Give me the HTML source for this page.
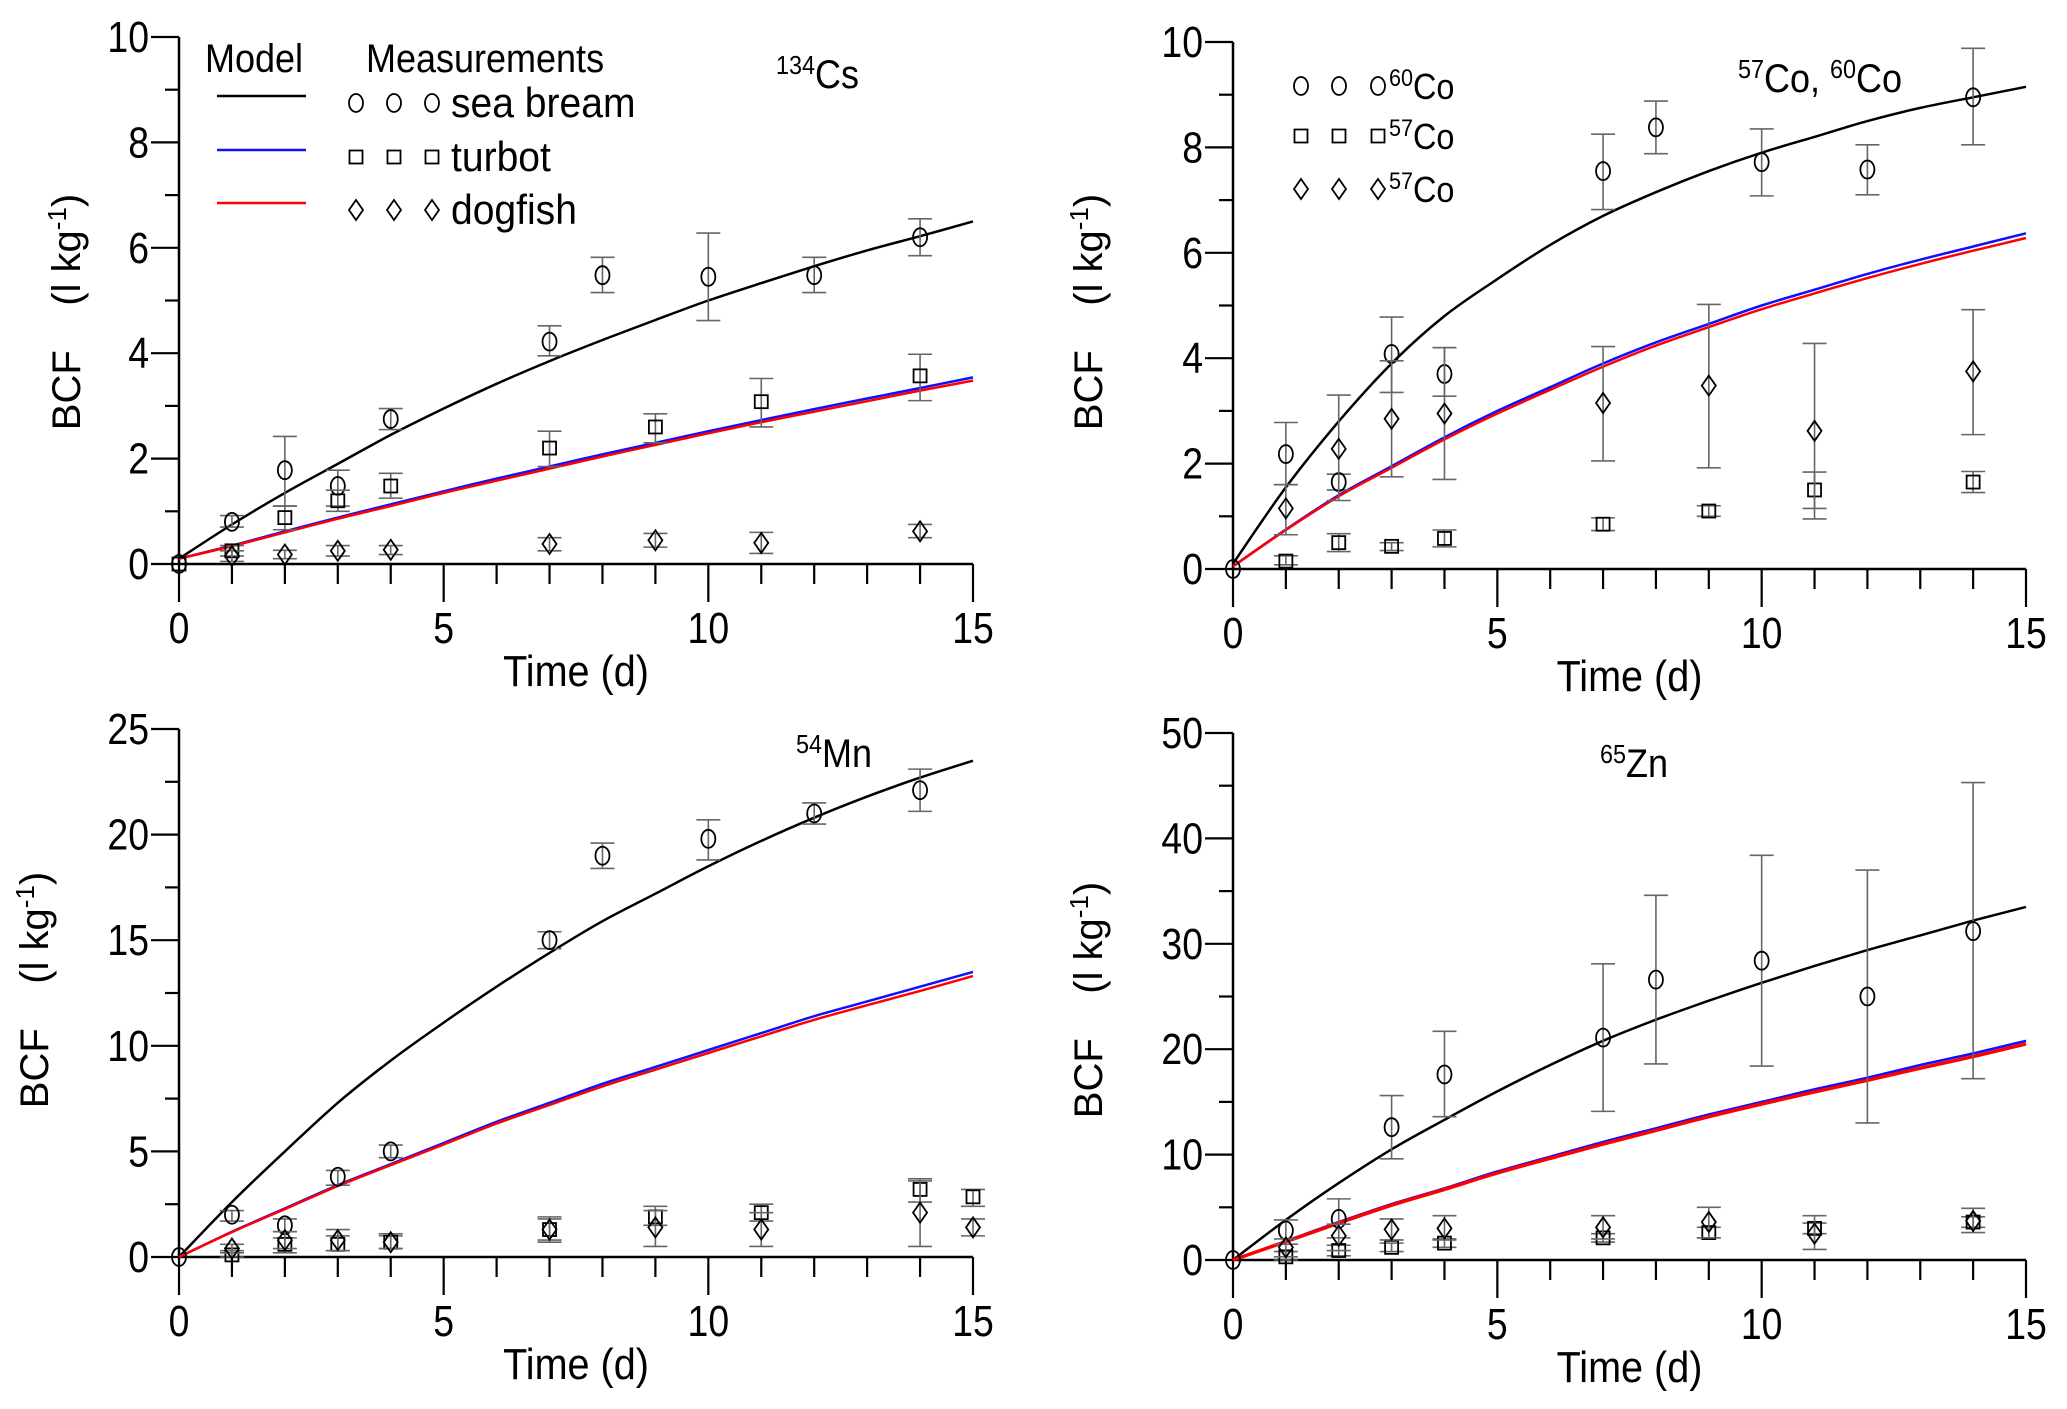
<!DOCTYPE html>
<html><head><meta charset="utf-8"><style>
html,body{margin:0;padding:0;background:#fff}
svg{display:block}
text{font-family:"Liberation Sans",Arial,sans-serif;fill:#000}
</style></head><body>
<svg id="fig" width="2067" height="1409" viewBox="0 0 2067 1409" xmlns="http://www.w3.org/2000/svg"></svg>
<script>
// ---- shared x grid for model curves ----
const curveT = [0,1,2,3,4,5,6,7,8,9,10,11,12,13,14,15];

// ---- Panel 1: 134Cs ----
const csBlack = [0.1,0.75,1.35,1.9,2.45,2.95,3.42,3.85,4.25,4.63,5.0,5.33,5.65,5.95,6.22,6.5];
const csBlue  = [0.1,0.35,0.62,0.88,1.13,1.38,1.62,1.85,2.08,2.3,2.52,2.73,2.94,3.14,3.34,3.54];
const csRed   = [0.1,0.34,0.6,0.86,1.1,1.35,1.58,1.81,2.04,2.26,2.48,2.69,2.89,3.09,3.29,3.48];
const csCircT = [0,1,2,3,4,7,8,10,12,14];
const csCircV = [0,0.8,1.78,1.48,2.75,4.22,5.48,5.45,5.48,6.2];
const csCircLo= [0,0.7,1.1,1.1,2.55,3.95,5.15,4.62,5.15,5.85];
const csCircHi= [0,0.92,2.42,1.78,2.95,4.52,5.82,6.28,5.82,6.55];
const csSqT = [0,1,2,3,4,7,9,11,14];
const csSqV = [0,0.25,0.88,1.2,1.48,2.2,2.6,3.08,3.57];
const csSqLo= [0,0.15,0.65,1.0,1.25,1.85,2.3,2.6,3.1];
const csSqHi= [0,0.35,1.1,1.4,1.72,2.52,2.85,3.52,3.98];
const csDiT = [1,2,3,4,7,9,11,14];
const csDiV = [0.15,0.18,0.25,0.27,0.38,0.45,0.4,0.62];
const csDiLo= [0.05,0.1,0.15,0.18,0.25,0.32,0.2,0.5];
const csDiHi= [0.25,0.26,0.35,0.35,0.5,0.58,0.6,0.75];

// ---- Panel 2: 57Co, 60Co ----
const coBlack = [0.1,1.55,2.8,3.9,4.8,5.5,6.15,6.7,7.15,7.55,7.9,8.2,8.5,8.75,8.95,9.15];
const coBlue  = [0.05,0.75,1.4,1.95,2.5,3.0,3.45,3.9,4.3,4.65,5.0,5.3,5.6,5.87,6.12,6.37];
const coRed   = [0.05,0.74,1.38,1.92,2.46,2.95,3.4,3.84,4.24,4.59,4.93,5.23,5.52,5.79,6.04,6.28];
const coCircT = [0,1,2,3,4,7,8,10,12,14];
const coCircV = [0,2.18,1.65,4.08,3.7,7.55,8.38,7.72,7.58,8.95];
const coCircLo= [0,1.6,1.5,3.35,3.28,6.82,7.88,7.08,7.1,8.05];
const coCircHi= [0,2.78,1.8,4.78,4.2,8.25,8.88,8.35,8.05,9.88];
const coSqT = [1,2,3,4,7,9,11,14];
const coSqV = [0.15,0.5,0.43,0.58,0.85,1.1,1.5,1.65];
const coSqLo= [0.08,0.33,0.35,0.42,0.73,1.0,1.15,1.45];
const coSqHi= [0.25,0.67,0.5,0.74,0.97,1.2,1.84,1.85];
const coDiT = [1,2,3,4,7,9,11,14];
const coDiV = [1.15,2.28,2.85,2.95,3.15,3.48,2.62,3.75];
const coDiLo= [0.65,1.3,1.75,1.7,2.05,1.92,0.95,2.55];
const coDiHi= [1.6,3.3,3.95,4.2,4.22,5.02,4.28,4.92];

// ---- Panel 3: 54Mn ----
const mnBlack = [0,2.6,5.0,7.3,9.3,11.1,12.8,14.4,15.9,17.2,18.5,19.7,20.8,21.8,22.7,23.5];
const mnBlue  = [0,1.2,2.3,3.4,4.4,5.4,6.4,7.3,8.2,9.0,9.8,10.6,11.4,12.1,12.8,13.5];
const mnRed   = [0,1.18,2.27,3.36,4.35,5.33,6.32,7.2,8.08,8.87,9.66,10.45,11.23,11.92,12.6,13.3];
const mnCircT = [0,1,2,3,4,7,8,10,12,14];
const mnCircV = [0,2.0,1.5,3.8,5.0,15,19,19.8,21,22.1];
const mnCircLo= [0,1.7,1.2,3.4,4.7,14.6,18.4,18.8,20.5,21.1];
const mnCircHi= [0,2.2,1.8,4.1,5.3,15.4,19.6,20.7,21.5,23.1];
const mnSqT = [1,2,3,4,7,9,11,14,15];
const mnSqV = [0.1,0.6,0.6,0.7,1.3,1.9,2.1,3.2,2.85];
const mnSqLo= [0,0.2,0.3,0.4,0.8,1.5,1.7,2.6,2.4];
const mnSqHi= [0.3,0.9,1.0,1.0,1.8,2.4,2.5,3.7,3.2];
const mnDiT = [1,2,3,4,7,9,11,14,15];
const mnDiV = [0.4,0.8,0.8,0.7,1.3,1.4,1.3,2.1,1.4];
const mnDiLo= [0.2,0.4,0.3,0.4,0.7,0.5,0.5,0.5,1.0];
const mnDiHi= [0.6,1.2,1.3,1.1,1.9,2.2,2.1,3.6,1.8];

// ---- Panel 4: 65Zn ----
const znBlack = [0,3.8,7.3,10.5,13.3,16,18.5,20.8,22.8,24.6,26.3,27.9,29.4,30.8,32.2,33.5];
const znBlue  = [0,1.8,3.6,5.3,6.8,8.4,9.8,11.2,12.5,13.8,15.0,16.2,17.3,18.5,19.6,20.8];
const znRed   = [0,1.75,3.5,5.2,6.7,8.25,9.65,11.0,12.3,13.6,14.8,15.95,17.05,18.2,19.3,20.5];
const znCircT = [0,1,2,3,4,7,8,10,12,14];
const znCircV = [0,2.8,3.9,12.6,17.6,21.1,26.6,28.4,25,31.2];
const znCircLo= [0,1.5,2.1,9.6,13.6,14.1,18.6,18.4,13,17.2];
const znCircHi= [0,3.8,5.8,15.6,21.7,28.1,34.6,38.4,37,45.3];
const znSqT = [1,2,3,4,7,9,11,14];
const znSqV = [0.3,0.9,1.2,1.6,2.1,2.6,3.0,3.6];
const znSqLo= [0,0.4,0.8,1.2,1.7,2.1,2.5,3.1];
const znSqHi= [0.8,1.4,1.6,2.0,2.5,3.1,3.5,4.1];
const znDiT = [1,2,3,4,7,9,11,14];
const znDiV = [1.2,2.3,2.9,3.0,3.1,3.6,2.5,3.7];
const znDiLo= [0.3,0.9,1.9,1.9,2.0,2.1,1.0,2.6];
const znDiHi= [2.0,3.4,3.9,4.2,4.2,5.0,4.2,4.9];

const xTicks = [0,5,10,15];
const yTicks1 = [0,2,4,6,8,10];
const yTicks3 = [0,5,10,15,20,25];
const yTicks4 = [0,10,20,30,40,50];

const NS='http://www.w3.org/2000/svg';
const svg=document.getElementById('fig');
function mk(tag,attrs,parent){const e=document.createElementNS(NS,tag);for(const k in attrs)e.setAttribute(k,attrs[k]);(parent||svg).appendChild(e);return e;}
function txt(parent,x,y,size,sc,anchor,html,rot){
  const t=mk('text',{transform:`translate(${x},${y})${rot?' rotate(-90)':''} scale(${sc},1)`,'font-size':size,'text-anchor':anchor},parent);
  t.innerHTML=html;return t;
}
function smooth(pts){
  let d='M'+pts[0][0].toFixed(1)+','+pts[0][1].toFixed(1);
  for(let i=0;i<pts.length-1;i++){
    const p0=pts[Math.max(0,i-1)],p1=pts[i],p2=pts[i+1],p3=pts[Math.min(pts.length-1,i+2)];
    const c1=[p1[0]+(p2[0]-p0[0])/6,p1[1]+(p2[1]-p0[1])/6];
    const c2=[p2[0]-(p3[0]-p1[0])/6,p2[1]-(p3[1]-p1[1])/6];
    d+=`C${c1[0].toFixed(1)},${c1[1].toFixed(1)} ${c2[0].toFixed(1)},${c2[1].toFixed(1)} ${p2[0].toFixed(1)},${p2[1].toFixed(1)}`;
  }
  return d;
}

function panel(p){
  const g=mk('g',{});
  
  
  const sx=v=>p.x0+(v/15)*(p.x1-p.x0);
  const sy=v=>p.y0-(v/p.ymax)*(p.y0-p.y1);
  const ax=mk('path',{d:`M${p.x0},${p.y1}V${p.y0}H${p.x1}`,stroke:'#000','stroke-width':2.5,fill:'none'},g);
  
  
  for(let t=0;t<=15;t++){
    const major=t%5===0;
    mk('line',{x1:sx(t),x2:sx(t),y1:p.y0,y2:p.y0+(major?38:20),stroke:'#000','stroke-width':2.2},g);
  }
  xTicks.forEach(t=>{
    const tx=txt(g,sx(t),p.y0+79,44,0.85,'middle',String(t));
    
    
  });
  const step=p.yt[1]-p.yt[0];
  for(let i=0;i<=p.yt.length*2-2;i++){
    const v=i*step/2;const major=i%2===0;
    mk('line',{x1:p.x0-(major?28:14),x2:p.x0,y1:sy(v),y2:sy(v),stroke:'#000','stroke-width':2.2},g);
  }
  p.yt.forEach(v=>{
    const tx=txt(g,p.x0-30,sy(v)+15,44,0.85,'end',String(v));
    
    
  });
  const xt=txt(g,(p.x0+p.x1)/2,p.y0+122,44,0.9,'middle','Time (d)');
  
  
  const yt=txt(g,p.yx,p.ymid,40,1,'middle','BCF\u00a0\u00a0\u00a0\u00a0(l kg<tspan dy="-14" font-size="26">-1</tspan><tspan dy="14">)</tspan>',true);
  
  
  const ti=txt(g,p.tx,p.ty,40,0.9,'start',p.title);
  
  
  [[p.black,'#000',2.5],[p.blue,'#1010ff',2.5],[p.red,'#ff0000',p.thick?3.5:2.5]].forEach(([arr,c,w],k)=>{
    const pts=curveT.map((t,i)=>[sx(t),sy(arr[i])]);
    const pl=mk('path',{d:smooth(pts),stroke:c,'stroke-width':w,fill:'none'},g);
    
    
  });
  p.series.forEach(s=>{
    s.t.forEach((t,i)=>{
      const x=sx(t);
      if(s.hi[i]!==s.lo[i]){
        const eb=mk('path',{d:`M${x},${sy(s.lo[i])}V${sy(s.hi[i])}M${x-12},${sy(s.lo[i])}h24M${x-12},${sy(s.hi[i])}h24`,stroke:'#666','stroke-width':1.6,fill:'none'},g);
        
        
      }
      const m=marker(s.shape,x,sy(s.v[i]),g);
      
      
    });
  });
}
function marker(shape,x,y,g){
  if(shape==='circle') return mk('ellipse',{cx:x,cy:y,rx:7,ry:9,fill:'none',stroke:'#000','stroke-width':1.8},g);
  if(shape==='square') return mk('rect',{x:x-6.5,y:y-6.5,width:13,height:13,fill:'none',stroke:'#000','stroke-width':1.8},g);
  return mk('path',{d:`M${x},${y-10}L${x+7},${y}L${x},${y+10}L${x-7},${y}Z`,fill:'none',stroke:'#000','stroke-width':1.8},g);
}
function S(shape,t,v,lo,hi){return {shape,t,v,lo,hi};}

panel({id:'cs134',x0:179,x1:973,y0:564,y1:37,ymax:10,yt:yTicks1,yx:80,ymid:312,tx:776,ty:88,
  title:'<tspan dy="-14" font-size="26">134</tspan><tspan dy="14">Cs</tspan>',
  black:csBlack,blue:csBlue,red:csRed,
  series:[S('circle',csCircT,csCircV,csCircLo,csCircHi),S('square',csSqT,csSqV,csSqLo,csSqHi),S('diamond',csDiT,csDiV,csDiLo,csDiHi)]});
panel({id:'co57-60',x0:1233,x1:2026,y0:569,y1:42,ymax:10,yt:yTicks1,yx:1102,ymid:312,tx:1738,ty:92,
  title:'<tspan dy="-14" font-size="26">57</tspan><tspan dy="14">Co, </tspan><tspan dy="-14" font-size="26">60</tspan><tspan dy="14">Co</tspan>',
  black:coBlack,blue:coBlue,red:coRed,
  series:[S('circle',coCircT,coCircV,coCircLo,coCircHi),S('square',coSqT,coSqV,coSqLo,coSqHi),S('diamond',coDiT,coDiV,coDiLo,coDiHi)]});
panel({id:'mn54',x0:179,x1:973,y0:1257,y1:729,ymax:25,yt:yTicks3,yx:48,ymid:990,tx:796,ty:767,
  title:'<tspan dy="-14" font-size="26">54</tspan><tspan dy="14">Mn</tspan>',
  black:mnBlack,blue:mnBlue,red:mnRed,
  series:[S('circle',mnCircT,mnCircV,mnCircLo,mnCircHi),S('square',mnSqT,mnSqV,mnSqLo,mnSqHi),S('diamond',mnDiT,mnDiV,mnDiLo,mnDiHi)]});
panel({id:'zn65',x0:1233,x1:2026,y0:1260,y1:733,ymax:50,yt:yTicks4,yx:1102,ymid:1000,tx:1600,ty:777,thick:true,
  title:'<tspan dy="-14" font-size="26">65</tspan><tspan dy="14">Zn</tspan>',
  black:znBlack,blue:znBlue,red:znRed,
  series:[S('circle',znCircT,znCircV,znCircLo,znCircHi),S('square',znSqT,znSqV,znSqLo,znSqHi),S('diamond',znDiT,znDiV,znDiLo,znDiHi)]});

// ---- legend panel 1 ----
const lg=mk('g',{});


const h1=txt(lg,205,72,40,0.9,'start','Model');


const h2=txt(lg,366,72,40,0.9,'start','Measurements');


[['#000','circle','sea bream',96],['#1010ff','square','turbot',150],['#ff0000','diamond','dogfish',203]].forEach(([c,sh,lab,y])=>{
  const l=mk('line',{x1:217,x2:306,y1:y,y2:y,stroke:c,'stroke-width':2.5},lg);
  
  
  [356,394,432].forEach(x=>{const m=marker(sh,x,y+7,lg);
    
    });
  const t=txt(lg,451,y+21,42,0.93,'start',lab);
  
  
});
// ---- legend panel 2 ----
const lg2=mk('g',{});


[['circle','60',86],['square','57',136],['diamond','57',189]].forEach(([sh,iso,y])=>{
  [1301,1339,1378].forEach(x=>{const m=marker(sh,x,y,lg2);
    
    });
  const t=txt(lg2,1389,y+13,36,0.9,'start','<tspan dy="-13" font-size="24">'+iso+'</tspan><tspan dy="13">Co</tspan>');
  
  
});
</script>
</body></html>
